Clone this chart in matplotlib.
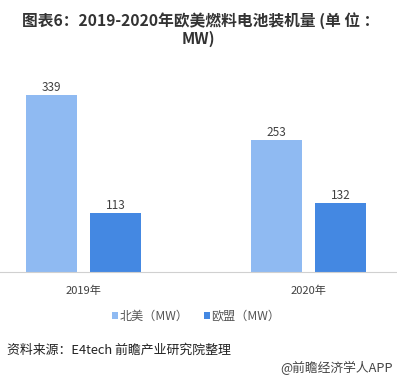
import matplotlib.pyplot as plt
import numpy as np

plt.rcParams['font.family'] = ['Noto Sans CJK SC', 'DejaVu Sans']

years = ['2019年', '2020年']
na_vals = [339, 253]
eu_vals = [113, 132]
series_names = ['北美（MW）', '欧盟（MW）']
colors = ['#8FBAF2', '#4488E2']

W, H = 397, 382
fig = plt.figure(figsize=(W / 100, H / 100), dpi=100)

# axes: x 0..397 px, y 65..272 px (from top)
ax = fig.add_axes([0, (H - 272) / H, 1, (272 - 65) / H])

x = np.arange(len(years))
bw = 51 / 225
off = 32 / 225
b1 = ax.bar(x - off, na_vals, bw, color=colors[0], label=series_names[0])
b2 = ax.bar(x + off, eu_vals, bw, color=colors[1], label=series_names[1])

for bars in (b1, b2):
    for r in bars:
        ax.text(r.get_x() + r.get_width() / 2, r.get_height() + 14, str(int(r.get_height())),
                ha='center', va='center', fontsize=8.5, color='#404040')

ax.set_xlim(-83.5 / 225, (397 - 83.5) / 225)
ax.set_ylim(0, 396)
for s in ['top', 'right', 'left']:
    ax.spines[s].set_visible(False)
ax.spines['bottom'].set_color('#d0d0d0')
ax.set_yticks([])
ax.set_xticks(x)
ax.set_xticklabels(years, fontsize=8, color='#404040')
ax.tick_params(axis='x', length=0, pad=10)

fig.text(0.505, 1 - 21 / H, '图表6：2019-2020年欧美燃料电池装机量 (单 位 ：',
         ha='center', va='center', fontsize=11.3, fontweight='bold', color='#333333')
fig.text(0.5, 1 - 38.5 / H, 'MW)',
         ha='center', va='center', fontsize=11.3, fontweight='bold', color='#333333')

leg = fig.legend(handles=[b1, b2], loc='center', bbox_to_anchor=(0.495, 1 - 316 / H),
                 ncol=2, frameon=False, fontsize=8.7, handlelength=0.5, handleheight=0.5,
                 handletextpad=0.1, columnspacing=1.3, labelcolor='#555555')

fig.text(7 / W, 1 - 350 / H, '资料来源：E4tech 前瞻产业研究院整理',
         ha='left', va='center', fontsize=9.3, color='#222222')
fig.text(393 / W, 1 - 368 / H, '@前瞻经济学人APP',
         ha='right', va='center', fontsize=9.2, color='#444444')

fig.savefig('out.png', dpi=100)
